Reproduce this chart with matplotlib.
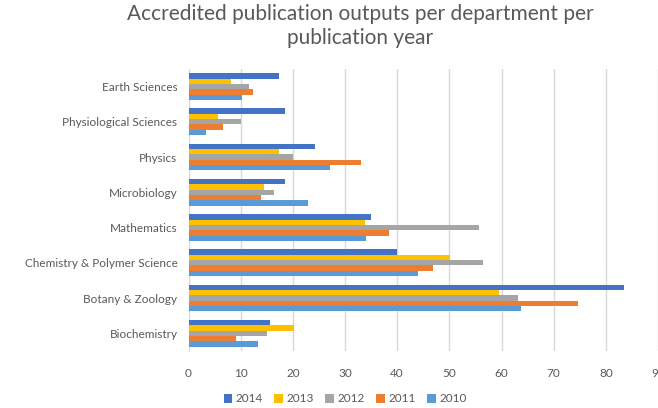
import matplotlib.pyplot as plt
import numpy as np

plt.rcParams['font.family'] = ['Lato', 'DejaVu Sans']

# Data (bottom to top as drawn)
departments = ['Biochemistry', 'Botany & Zoology', 'Chemistry & Polymer Science',
               'Mathematics', 'Microbiology', 'Physics',
               'Physiological Sciences', 'Earth Sciences']
years = ['2014', '2013', '2012', '2011', '2010']
v2014 = [15.7, 83.5, 40.0, 34.9, 18.5, 24.3, 18.5, 17.4]
v2013 = [20.3, 59.5, 50.1, 33.8, 14.4, 17.3, 5.6, 8.2]
v2012 = [15.1, 63.1, 56.4, 55.7, 16.4, 20.1, 10.1, 11.6]
v2011 = [9.1, 74.6, 46.9, 38.5, 13.8, 33.1, 6.7, 12.3]
v2010 = [13.3, 63.7, 43.9, 34.0, 22.9, 27.1, 3.3, 10.3]
series = [v2014, v2013, v2012, v2011, v2010]
colors = ['#4472C4', '#FFC000', '#A5A5A5', '#ED7D31', '#5B9BD5']

fig = plt.figure(figsize=(6.58, 4.08), dpi=100)
ax = fig.add_axes([0.2865, 0.140, 0.7135, 0.691])

y = np.arange(len(departments))
h = 0.152
for k, (vals, c, lab) in enumerate(zip(series, colors, years)):
    off = (2 - k) * h
    ax.barh(y + off, vals, height=h, color=c, label=lab, zorder=3)

ax.set_xlim(0, 90)
ax.set_ylim(-0.5, len(departments) - 0.5)
ax.set_xticks(np.arange(0, 91, 10))
ax.set_yticks(y)
ax.set_yticklabels(departments)
ax.tick_params(length=0, labelsize=8.5, labelcolor='#595959')
ax.tick_params(axis='x', pad=12)
ax.tick_params(axis='y', pad=8)
ax.grid(axis='x', color='#D9D9D9', linewidth=1, zorder=0)
for s in ['top', 'right', 'bottom']:
    ax.spines[s].set_visible(False)
ax.spines['left'].set_color('#D9D9D9')

fig.suptitle('Accredited publication outputs per department per\npublication year',
             x=0.547, y=0.99, fontsize=15, color='#595959', linespacing=1.25)

fig.legend(loc='center', bbox_to_anchor=(345 / 658, 1 - 399 / 408), ncol=5,
           frameon=False, fontsize=8.5, labelcolor='#595959',
           handlelength=0.7, handleheight=0.7, handletextpad=0.3, columnspacing=1.0)

plt.savefig('out.png', dpi=100)
